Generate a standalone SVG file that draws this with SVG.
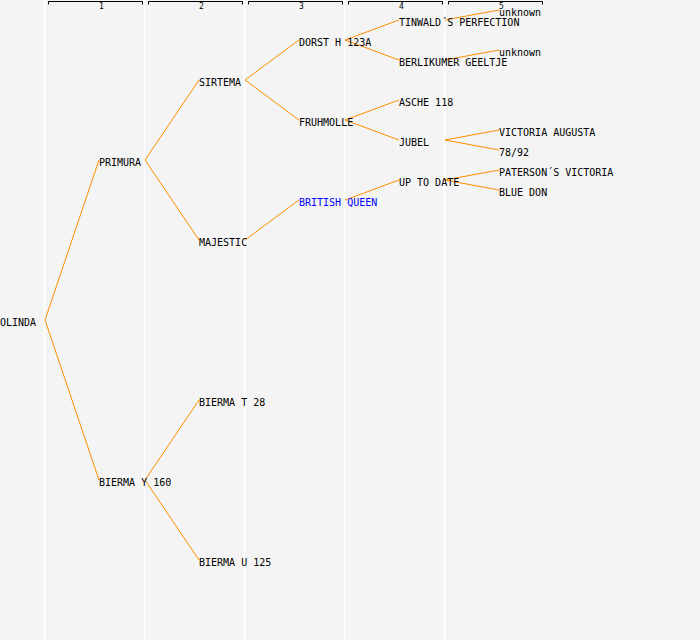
<svg xmlns="http://www.w3.org/2000/svg" width="700" height="640" viewBox="0 0 700 640">
<style>
.t{font-family:"DejaVu Sans Mono","Liberation Mono",monospace;font-size:10px;fill:#000}
.b{fill:#0000ff}
.h{font-family:"DejaVu Sans Mono","Liberation Mono",monospace;font-size:8px;fill:#000;text-anchor:middle}
.c{stroke:#ff8c00;stroke-width:1;fill:none}
.g{stroke:#ffffff;stroke-width:1.5}
.br{stroke:#000;stroke-width:1;fill:none}
</style>
<rect width="700" height="640" fill="#f4f4f4"/>
<g id="grid">
<line class="g" x1="44.5" y1="0" x2="44.5" y2="640"/>
<line class="g" x1="144.5" y1="0" x2="144.5" y2="640"/>
<line class="g" x1="244.5" y1="0" x2="244.5" y2="640"/>
<line class="g" x1="344.5" y1="0" x2="344.5" y2="640"/>
<line class="g" x1="444.5" y1="0" x2="444.5" y2="640"/>
</g>
<g id="header">
<path class="br" d="M48.5,4.5V1.5H142.5V4.5"/><text class="h" x="101.5" y="9">1</text>
<path class="br" d="M148.5,4.5V1.5H242.5V4.5"/><text class="h" x="201.5" y="9">2</text>
<path class="br" d="M248.5,4.5V1.5H342.5V4.5"/><text class="h" x="301.5" y="9">3</text>
<path class="br" d="M348.5,4.5V1.5H442.5V4.5"/><text class="h" x="401.5" y="9">4</text>
<path class="br" d="M448.5,4.5V1.5H542.5V4.5"/><text class="h" x="501.5" y="9">5</text>
</g>
<g id="connectors">
<polyline class="c" points="99,160 45,320 99,480"/>
<polyline class="c" points="199,80 145,160 199,240"/>
<polyline class="c" points="199,400 145,480 199,560"/>
<polyline class="c" points="299,40 245,80 299,120"/>
<line class="c" x1="245" y1="240" x2="299" y2="200"/>
<polyline class="c" points="399,20 345,40 399,60"/>
<polyline class="c" points="399,100 345,120 399,140"/>
<line class="c" x1="345" y1="200" x2="399" y2="180"/>
<line class="c" x1="445" y1="20" x2="499" y2="10"/>
<line class="c" x1="445" y1="60" x2="499" y2="50"/>
<polyline class="c" points="499,130 445,140 499,150"/>
<polyline class="c" points="499,170 445,180 499,190"/>
</g>
<g id="n-olinda"><text class="t" x="0" y="326">OLINDA</text></g>
<g id="n-primura"><text class="t" x="99" y="166">PRIMURA</text></g>
<g id="n-bierma-y"><text class="t" x="99" y="486">BIERMA Y 160</text></g>
<g id="n-sirtema"><text class="t" x="199" y="86">SIRTEMA</text></g>
<g id="n-majestic"><text class="t" x="199" y="246">MAJESTIC</text></g>
<g id="n-bierma-t"><text class="t" x="199" y="406">BIERMA T 28</text></g>
<g id="n-bierma-u"><text class="t" x="199" y="566">BIERMA U 125</text></g>
<g id="n-dorst"><text class="t" x="299" y="46">DORST H 123A</text></g>
<g id="n-fruhmolle"><text class="t" x="299" y="126">FRUHMOLLE</text></g>
<g id="n-british"><text class="t b" x="299" y="206">BRITISH QUEEN</text></g>
<g id="n-tinwald"><text class="t" x="399" y="26">TINWALD´S PERFECTION</text></g>
<g id="n-berlikumer"><text class="t" x="399" y="66">BERLIKUMER GEELTJE</text></g>
<g id="n-asche"><text class="t" x="399" y="106">ASCHE 118</text></g>
<g id="n-jubel"><text class="t" x="399" y="146">JUBEL</text></g>
<g id="n-uptodate"><text class="t" x="399" y="186">UP TO DATE</text></g>
<g id="n-unknown1"><text class="t" x="499" y="16">unknown</text></g>
<g id="n-unknown2"><text class="t" x="499" y="56">unknown</text></g>
<g id="n-victoria"><text class="t" x="499" y="136">VICTORIA AUGUSTA</text></g>
<g id="n-7892"><text class="t" x="499" y="156">78/92</text></g>
<g id="n-paterson"><text class="t" x="499" y="176">PATERSON´S VICTORIA</text></g>
<g id="n-bluedon"><text class="t" x="499" y="196">BLUE DON</text></g>
</svg>
